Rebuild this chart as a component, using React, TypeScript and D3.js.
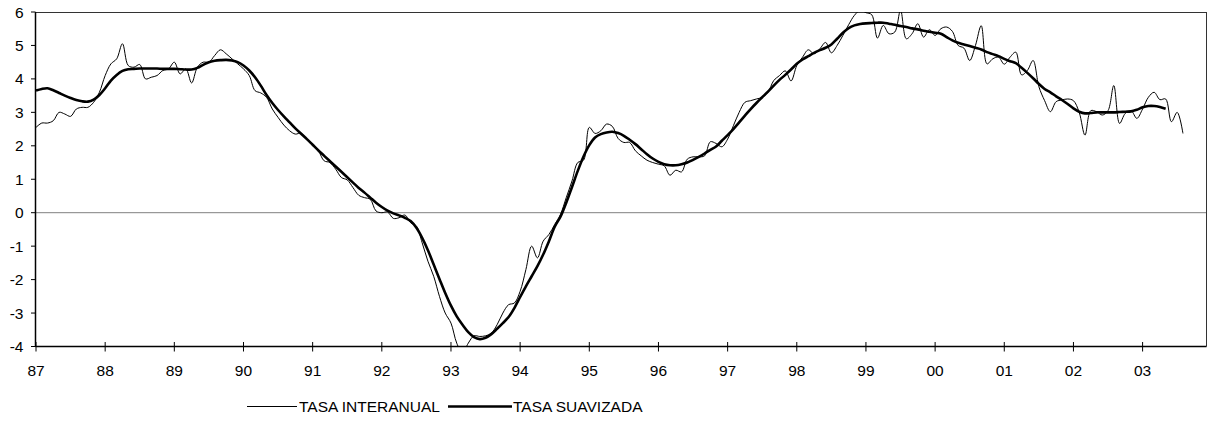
import React from 'react';
import * as d3 from 'd3';

// x-axis labels (one per January, monthly categories Jan 1987 .. Dec 2003)
const yearLabels = ['87', '88', '89', '90', '91', '92', '93', '94', '95', '96', '97', '98', '99', '00', '01', '02', '03'];
const yTicks = [-4, -3, -2, -1, 0, 1, 2, 3, 4, 5, 6];
const nCategories = 204;

// TASA INTERANUAL (monthly)
const interanual1987 = [2.55, 2.68, 2.68, 2.75, 3.0, 2.95, 2.88, 3.1, 3.15, 3.15, 3.3, 3.6];
const interanual1988 = [4.1, 4.45, 4.6, 5.05, 4.4, 4.35, 4.43, 4.0, 4.05, 4.1, 4.25, 4.3];
const interanual1989 = [4.5, 4.15, 4.3, 3.88, 4.35, 4.5, 4.5, 4.7, 4.87, 4.75, 4.6, 4.45];
const interanual1990 = [4.3, 4.1, 3.65, 3.58, 3.45, 3.1, 2.85, 2.62, 2.45, 2.35, 2.38, 2.18];
const interanual1991 = [2.05, 1.85, 1.55, 1.5, 1.3, 1.05, 0.98, 0.75, 0.52, 0.45, 0.4, 0.05];
const interanual1992 = [0.0, 0.02, -0.17, -0.15, -0.07, -0.3, -0.4, -0.9, -1.45, -1.9, -2.5, -3.0];
const interanual1993 = [-3.3, -3.9, -4.2, -3.9, -3.68, -3.7, -3.68, -3.6, -3.35, -3.0, -2.75, -2.7];
const interanual1994 = [-2.35, -1.7, -1.0, -1.35, -0.85, -0.65, -0.35, -0.05, 0.45, 0.95, 1.5, 1.57];
const interanual1995 = [2.55, 2.37, 2.45, 2.65, 2.58, 2.22, 2.1, 2.1, 1.85, 1.7, 1.57, 1.5];
const interanual1996 = [1.45, 1.4, 1.12, 1.27, 1.22, 1.6, 1.67, 1.67, 1.7, 2.12, 2.07, 1.97];
const interanual1997 = [2.2, 2.6, 3.0, 3.3, 3.35, 3.4, 3.45, 3.6, 3.95, 4.1, 4.24, 3.94];
const interanual1998 = [4.4, 4.65, 4.87, 4.75, 4.9, 5.09, 4.78, 5.0, 5.3, 5.62, 5.9, 6.05];
const interanual1999 = [5.98, 5.92, 5.22, 5.6, 5.35, 5.4, 6.05, 5.2, 5.35, 5.65, 5.25, 5.47];
const interanual2000 = [5.3, 5.5, 5.55, 5.42, 5.0, 4.92, 4.55, 5.0, 5.59, 4.45, 4.6, 4.65];
const interanual2001 = [4.44, 4.65, 4.8, 4.12, 4.25, 4.55, 3.77, 3.35, 3.02, 3.32, 3.37, 3.4];
const interanual2002 = [3.35, 3.0, 2.32, 3.05, 3.02, 2.92, 3.05, 3.8, 2.67, 2.97, 3.05, 2.82];
const interanual2003 = [3.1, 3.45, 3.6, 3.38, 3.4, 2.72, 3.0, 2.37];

// TASA SUAVIZADA (monthly)
const suavizada1987 = [3.65, 3.7, 3.72, 3.66, 3.58, 3.5, 3.43, 3.37, 3.33, 3.32, 3.38, 3.52];
const suavizada1988 = [3.72, 3.95, 4.12, 4.24, 4.29, 4.3, 4.31, 4.31, 4.31, 4.31, 4.3, 4.3];
const suavizada1989 = [4.3, 4.29, 4.28, 4.28, 4.33, 4.42, 4.5, 4.54, 4.56, 4.57, 4.55, 4.5];
const suavizada1990 = [4.4, 4.25, 4.05, 3.8, 3.52, 3.28, 3.07, 2.88, 2.7, 2.52, 2.36, 2.2];
const suavizada1991 = [2.03, 1.86, 1.7, 1.54, 1.38, 1.22, 1.06, 0.9, 0.74, 0.6, 0.45, 0.3];
const suavizada1992 = [0.17, 0.06, -0.02, -0.08, -0.15, -0.25, -0.45, -0.75, -1.12, -1.55, -1.98, -2.4];
const suavizada1993 = [-2.78, -3.1, -3.35, -3.57, -3.72, -3.78, -3.74, -3.63, -3.47, -3.3, -3.12, -2.85];
const suavizada1994 = [-2.52, -2.2, -1.9, -1.6, -1.25, -0.85, -0.42, -0.12, 0.3, 0.77, 1.25, 1.68];
const suavizada1995 = [2.02, 2.25, 2.35, 2.4, 2.42, 2.38, 2.3, 2.18, 2.05, 1.9, 1.75, 1.62];
const suavizada1996 = [1.52, 1.45, 1.42, 1.42, 1.45, 1.5, 1.58, 1.67, 1.77, 1.88, 1.98, 2.15];
const suavizada1997 = [2.32, 2.5, 2.7, 2.9, 3.1, 3.28, 3.45, 3.62, 3.8, 3.97, 4.12, 4.28];
const suavizada1998 = [4.45, 4.58, 4.68, 4.78, 4.86, 4.93, 5.03, 5.2, 5.38, 5.52, 5.6, 5.64];
const suavizada1999 = [5.66, 5.67, 5.68, 5.68, 5.65, 5.62, 5.58, 5.55, 5.51, 5.48, 5.44, 5.41];
const suavizada2000 = [5.38, 5.35, 5.25, 5.15, 5.08, 5.03, 4.98, 4.93, 4.88, 4.8, 4.74, 4.68];
const suavizada2001 = [4.6, 4.53, 4.47, 4.33, 4.18, 4.02, 3.85, 3.7, 3.6, 3.48, 3.37, 3.25];
const suavizada2002 = [3.12, 3.02, 2.97, 2.98, 3.0, 3.0, 3.0, 3.0, 3.01, 3.02, 3.03, 3.08];
const suavizada2003 = [3.15, 3.19, 3.19, 3.16, 3.11];

const interanual = [
  ...interanual1987, ...interanual1988, ...interanual1989, ...interanual1990, ...interanual1991,
  ...interanual1992, ...interanual1993, ...interanual1994, ...interanual1995, ...interanual1996,
  ...interanual1997, ...interanual1998, ...interanual1999, ...interanual2000, ...interanual2001,
  ...interanual2002, ...interanual2003,
];
const suavizada = [
  ...suavizada1987, ...suavizada1988, ...suavizada1989, ...suavizada1990, ...suavizada1991,
  ...suavizada1992, ...suavizada1993, ...suavizada1994, ...suavizada1995, ...suavizada1996,
  ...suavizada1997, ...suavizada1998, ...suavizada1999, ...suavizada2000, ...suavizada2001,
  ...suavizada2002, ...suavizada2003,
];

export default function App() {
  const W = 1210;
  const H = 421;
  const left = 36;
  const right = 1206;
  const top = 12;
  const bottom = 346.5;
  const font = 'Liberation Sans, Arial, sans-serif';
  const fs = 15.5;

  const x = d3.scaleLinear().domain([0, nCategories - 1]).range([left, right]);
  const y = d3.scaleLinear().domain([-4, 6]).range([bottom, top]);

  const line = d3
    .line<number>()
    .x((_, i) => x(i))
    .y((d) => y(d))
    .curve(d3.curveCatmullRom.alpha(0.5));

  return (
    <svg
      width={W}
      height={H}
      style={{ position: 'absolute', left: 0, top: 0, background: '#fff' }}
      fontFamily={font}
    >
      <defs>
        <clipPath id="plotClip">
          <rect x={left - 1} y={top} width={right - left + 1} height={bottom - top} />
        </clipPath>
      </defs>
      <rect x={0} y={0} width={W} height={H} fill="#fff" />
      {/* plot frame */}
      <line x1={35.5} x2={right} y1={top + 0.5} y2={top + 0.5} stroke="#333" strokeWidth={1} />
      <line x1={right + 0.5} x2={right + 0.5} y1={top} y2={bottom} stroke="#333" strokeWidth={1} />
      {/* zero line */}
      <line x1={left} x2={right} y1={y(0)} y2={y(0)} stroke="#808080" strokeWidth={1} />

      <g clipPath="url(#plotClip)">
        <path d={line(interanual) || ''} fill="none" stroke="#000" strokeWidth={1} />
        <path d={line(suavizada) || ''} fill="none" stroke="#000" strokeWidth={2.6} />
      </g>

      {/* y axis */}
      <line x1={35.5} x2={35.5} y1={top} y2={bottom + 0.5} stroke="#000" strokeWidth={1.5} />
      {yTicks.map((t) => (
        <g key={t}>
          <line x1={31} x2={35.5} y1={y(t)} y2={y(t)} stroke="#000" strokeWidth={1} />
          <text x={23.5} y={y(t) + 5.5} fontSize={fs} textAnchor="end" fill="#000">
            {t}
          </text>
        </g>
      ))}

      {/* x axis */}
      <line x1={35.5} x2={right + 0.5} y1={bottom} y2={bottom} stroke="#000" strokeWidth={1.5} />
      {yearLabels.map((lab, k) => {
        const xi = x(k * 12);
        return (
          <g key={lab}>
            <line x1={xi} x2={xi} y1={bottom - 4.5} y2={bottom + 5} stroke="#000" strokeWidth={1} />
            <text x={xi} y={375.5} fontSize={fs} textAnchor="middle" fill="#000">
              {lab}
            </text>
          </g>
        );
      })}

      {/* legend */}
      <line x1={247} x2={297} y1={406.5} y2={406.5} stroke="#000" strokeWidth={1} />
      <text x={299} y={412} fontSize={fs} fill="#000">
        TASA INTERANUAL
      </text>
      <line x1={448} x2={512} y1={406.5} y2={406.5} stroke="#000" strokeWidth={2.6} />
      <text x={513} y={412} fontSize={fs} fill="#000">
        TASA SUAVIZADA
      </text>
    </svg>
  );
}
